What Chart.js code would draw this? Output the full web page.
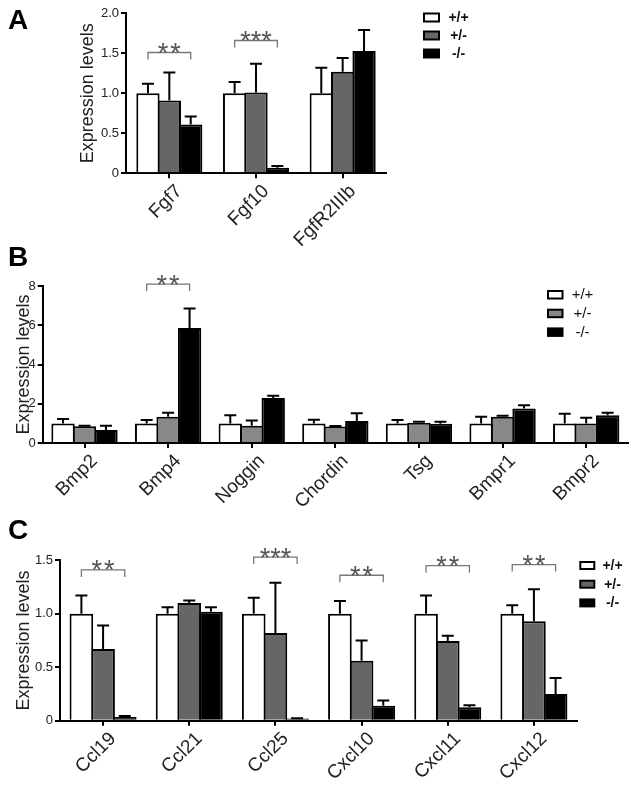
<!DOCTYPE html>
<html>
<head>
<meta charset="utf-8">
<script src="https://cdn.jsdelivr.net/npm/chart.js@4.4.1/dist/chart.umd.min.js"></script>
<style>
  html, body { margin: 0; padding: 0; background: #fff; }
  #page { position: relative; width: 634px; height: 785px; overflow: hidden; }
  #page canvas { position: absolute; left: 0; }
  .letter { position: absolute; left: 8px; font: bold 28px "Liberation Sans", Arial, sans-serif; line-height: 28px; color: #000; }
</style>
</head>
<body>
<div id="page">
  <canvas id="chartA" width="634" height="260" style="top:0px"></canvas>
  <canvas id="chartB" width="634" height="280" style="top:240px"></canvas>
  <canvas id="chartC" width="634" height="285" style="top:500px"></canvas>
  <div class="letter" style="top:6px">A</div>
  <div class="letter" style="top:243px">B</div>
  <div class="letter" style="top:516px">C</div>
</div>
<script>
// genotypes
const groupLabels = ['+/+', '+/-', '-/-'];

// A: Fgf signalling
const fgfGenes = ['Fgf7', 'Fgf10', 'FgfR2IIIb'];
const fgfWT = [1.0, 1.0, 1.0];
const fgfWTErr = [0.12, 0.14, 0.32];
const fgfHet = [0.91, 1.01, 1.27];
const fgfHetErr = [0.35, 0.36, 0.17];
const fgfKO = [0.61, 0.07, 1.53];
const fgfKOErr = [0.10, 0.02, 0.26];
const fgfSigGene = ['Fgf7', 'Fgf10'];
const fgfSigStars = ['**', '***'];
const fgfSigLevel = [1.51, 1.66];

// B: Bmp signalling
const bmpGenes = ['Bmp2', 'Bmp4', 'Noggin', 'Chordin', 'Tsg', 'Bmpr1', 'Bmpr2'];
const bmpWT = [1, 1, 1, 1, 1, 1, 1];
const bmpWTErr = [0.22, 0.17, 0.41, 0.19, 0.17, 0.34, 0.49];
const bmpHet = [0.85, 1.34, 0.88, 0.84, 1.03, 1.34, 1.0];
const bmpHetErr = [0.03, 0.2, 0.27, 0.03, 0.05, 0.05, 0.29];
const bmpKO = [0.66, 5.86, 2.29, 1.12, 0.98, 1.76, 1.42];
const bmpKOErr = [0.22, 0.99, 0.12, 0.39, 0.1, 0.16, 0.12];
const bmpSigGene = ['Bmp4'];
const bmpSigStars = ['**'];
const bmpSigLevel = [8.1];

// C: chemokines
const chemGenes = ['Ccl19', 'Ccl21', 'Ccl25', 'Cxcl10', 'Cxcl11', 'Cxcl12'];
const chemWT = [1, 1, 1, 1, 1, 1];
const chemWTErr = [0.17, 0.06, 0.15, 0.12, 0.17, 0.08];
const chemHet = [0.67, 1.10, 0.82, 0.56, 0.745, 0.93];
const chemHetErr = [0.22, 0.025, 0.47, 0.19, 0.05, 0.30];
const chemKO = [0.035, 1.02, 0.02, 0.14, 0.125, 0.25];
const chemKOErr = [0.008, 0.04, 0.003, 0.05, 0.02, 0.15];
const chemSigGene = ['Ccl19', 'Ccl25', 'Cxcl10', 'Cxcl11', 'Cxcl12'];
const chemSigStars = ['**', '***', '**', '**', '**'];
const chemSigLevel = [1.41, 1.53, 1.36, 1.45, 1.46];

Chart.defaults.font.family = '"Liberation Sans", Arial, sans-serif';
Chart.defaults.color = '#222';
Chart.defaults.animation = false;

// upper error bars (mean + sem) on top of each bar
const errorBars = {
  id: 'errorBars',
  afterDatasetsDraw(chart) {
    const ctx = chart.ctx;
    const y = chart.scales.y;
    ctx.save();
    ctx.strokeStyle = '#000';
    ctx.lineWidth = 2;
    chart.data.datasets.forEach((ds, i) => {
      chart.getDatasetMeta(i).data.forEach((bar, j) => {
        const top = y.getPixelForValue(ds.data[j] + ds.sem[j]);
        ctx.beginPath();
        ctx.moveTo(bar.x, bar.y);
        ctx.lineTo(bar.x, top);
        ctx.moveTo(bar.x - 6, top);
        ctx.lineTo(bar.x + 6, top);
        ctx.stroke();
      });
    });
    ctx.restore();
  }
};

// significance brackets between +/+ and -/-
const sigBrackets = {
  id: 'sigBrackets',
  afterDraw(chart, args, opts) {
    const ctx = chart.ctx;
    const y = chart.scales.y;
    const first = chart.getDatasetMeta(0).data;
    const last = chart.getDatasetMeta(2).data;
    ctx.save();
    ctx.strokeStyle = '#777';
    ctx.fillStyle = '#555';
    ctx.lineWidth = 1.3;
    ctx.font = '27px "Liberation Sans", Arial, sans-serif';
    ctx.textAlign = 'center';
    ctx.textBaseline = 'alphabetic';
    opts.genes.forEach((g, k) => {
      const idx = chart.data.labels.indexOf(g);
      const x1 = first[idx].x, x2 = last[idx].x;
      const yy = y.getPixelForValue(opts.levels[k]);
      ctx.beginPath();
      ctx.moveTo(x1, yy + 7);
      ctx.lineTo(x1, yy);
      ctx.lineTo(x2, yy);
      ctx.lineTo(x2, yy + 7);
      ctx.stroke();
      const n = opts.stars[k].length;
      const gap = n === 2 ? 12.5 : 10.5;
      const cx = (x1 + x2) / 2;
      for (let s = 0; s < n; s++) {
        ctx.fillText('*', cx + (s - (n - 1) / 2) * gap, yy + 9.5);
      }
    });
    ctx.restore();
  }
};

// boxed legend at a fixed spot right of the plot
const boxLegend = {
  id: 'boxLegend',
  afterDraw(chart, args, o) {
    const ctx = chart.ctx;
    ctx.save();
    ctx.font = o.font;
    ctx.textAlign = 'center';
    ctx.textBaseline = 'middle';
    chart.data.datasets.forEach((ds, i) => {
      const top = o.top + i * o.pitch;
      ctx.fillStyle = '#000';
      ctx.fillRect(o.x, top, o.w, o.h);
      ctx.fillStyle = ds.backgroundColor;
      ctx.fillRect(o.x + 2, top + 2, o.w - 4, o.h - 4);
      ctx.fillStyle = '#111';
      ctx.fillText(ds.label, o.textX, top + o.h / 2 + 0.5);
    });
    ctx.restore();
  }
};

function makePanel(canvasId, genes, series, errs, fills, sig, p) {
  const canvas = document.getElementById(canvasId);
  const H = canvas.height;
  return new Chart(canvas, {
    type: 'bar',
    data: {
      labels: genes,
      datasets: series.map((d, i) => ({
        label: groupLabels[i],
        data: d,
        sem: errs[i],
        backgroundColor: fills[i],
        borderColor: '#000',
        borderWidth: 2,
        borderSkipped: 'start',
        categoryPercentage: p.catPct,
        barPercentage: 1.09
      }))
    },
    options: {
      responsive: false,
      devicePixelRatio: 1,
      layout: { padding: { left: p.padLeft, top: p.top, right: 634 - p.right, bottom: 0 } },
      plugins: {
        legend: { display: false },
        tooltip: { enabled: false },
        sigBrackets: { genes: sig[0], stars: sig[1], levels: sig[2] },
        boxLegend: p.legend
      },
      scales: {
        x: {
          ticks: { color: '#222', font: { size: 19 }, minRotation: 45, maxRotation: 45, autoSkip: false, padding: 2, labelOffset: 10 },
          grid: { offset: false, drawOnChartArea: false, color: '#000', lineWidth: 2, tickLength: 5 },
          border: { color: '#000', width: 2 },
          afterFit(s) { s.height = H - p.bottom; s.paddingLeft = 0; s.paddingRight = 0; }
        },
        y: {
          min: 0,
          max: p.yMax,
          ticks: { stepSize: p.yStep, color: '#222', font: { size: 13 }, padding: 2, callback: p.fmt },
          grid: { drawOnChartArea: false, color: '#000', lineWidth: 2, tickLength: 5 },
          border: { color: '#000', width: 2 },
          title: { display: true, text: 'Expression levels', color: '#222', font: { size: 18 }, padding: 0 },
          afterFit(s) { s.width = p.axisX - p.padLeft; s.paddingTop = 0; s.paddingBottom = 0; }
        }
      }
    },
    plugins: [errorBars, sigBrackets, boxLegend]
  });
}

const dec = v => (v === 0 ? '0' : v.toFixed(1));
const whole = v => String(v);

makePanel('chartA', fgfGenes,
  [fgfWT, fgfHet, fgfKO], [fgfWTErr, fgfHetErr, fgfKOErr],
  ['#fff', '#666', '#000'], [fgfSigGene, fgfSigStars, fgfSigLevel],
  { padLeft: 77, axisX: 126, top: 13.3, bottom: 173.3, right: 386, yMax: 2, yStep: 0.5, fmt: dec, catPct: 0.74,
    legend: { x: 423, top: 12.5, pitch: 18, w: 17, h: 10, textX: 458.5, font: 'bold 14px "Liberation Sans", Arial, sans-serif' } });

makePanel('chartB', bmpGenes,
  [bmpWT, bmpHet, bmpKO], [bmpWTErr, bmpHetErr, bmpKOErr],
  ['#fff', '#888', '#000'], [bmpSigGene, bmpSigStars, bmpSigLevel],
  { padLeft: 13, axisX: 42.7, top: 46, bottom: 203, right: 628, yMax: 8, yStep: 2, fmt: whole, catPct: 0.77,
    legend: { x: 547, top: 50, pitch: 18.7, w: 16.5, h: 9.5, textX: 582.5, font: '15px "Liberation Sans", Arial, sans-serif' } });

makePanel('chartC', chemGenes,
  [chemWT, chemHet, chemKO], [chemWTErr, chemHetErr, chemKOErr],
  ['#fff', '#666', '#000'], [chemSigGene, chemSigStars, chemSigLevel],
  { padLeft: 13, axisX: 60, top: 60.3, bottom: 220.7, right: 577, yMax: 1.5, yStep: 0.5, fmt: dec, catPct: 0.755,
    legend: { x: 579.3, top: 61, pitch: 18.7, w: 16, h: 9, textX: 612.5, font: 'bold 14px "Liberation Sans", Arial, sans-serif' } });
</script>
</body>
</html>
